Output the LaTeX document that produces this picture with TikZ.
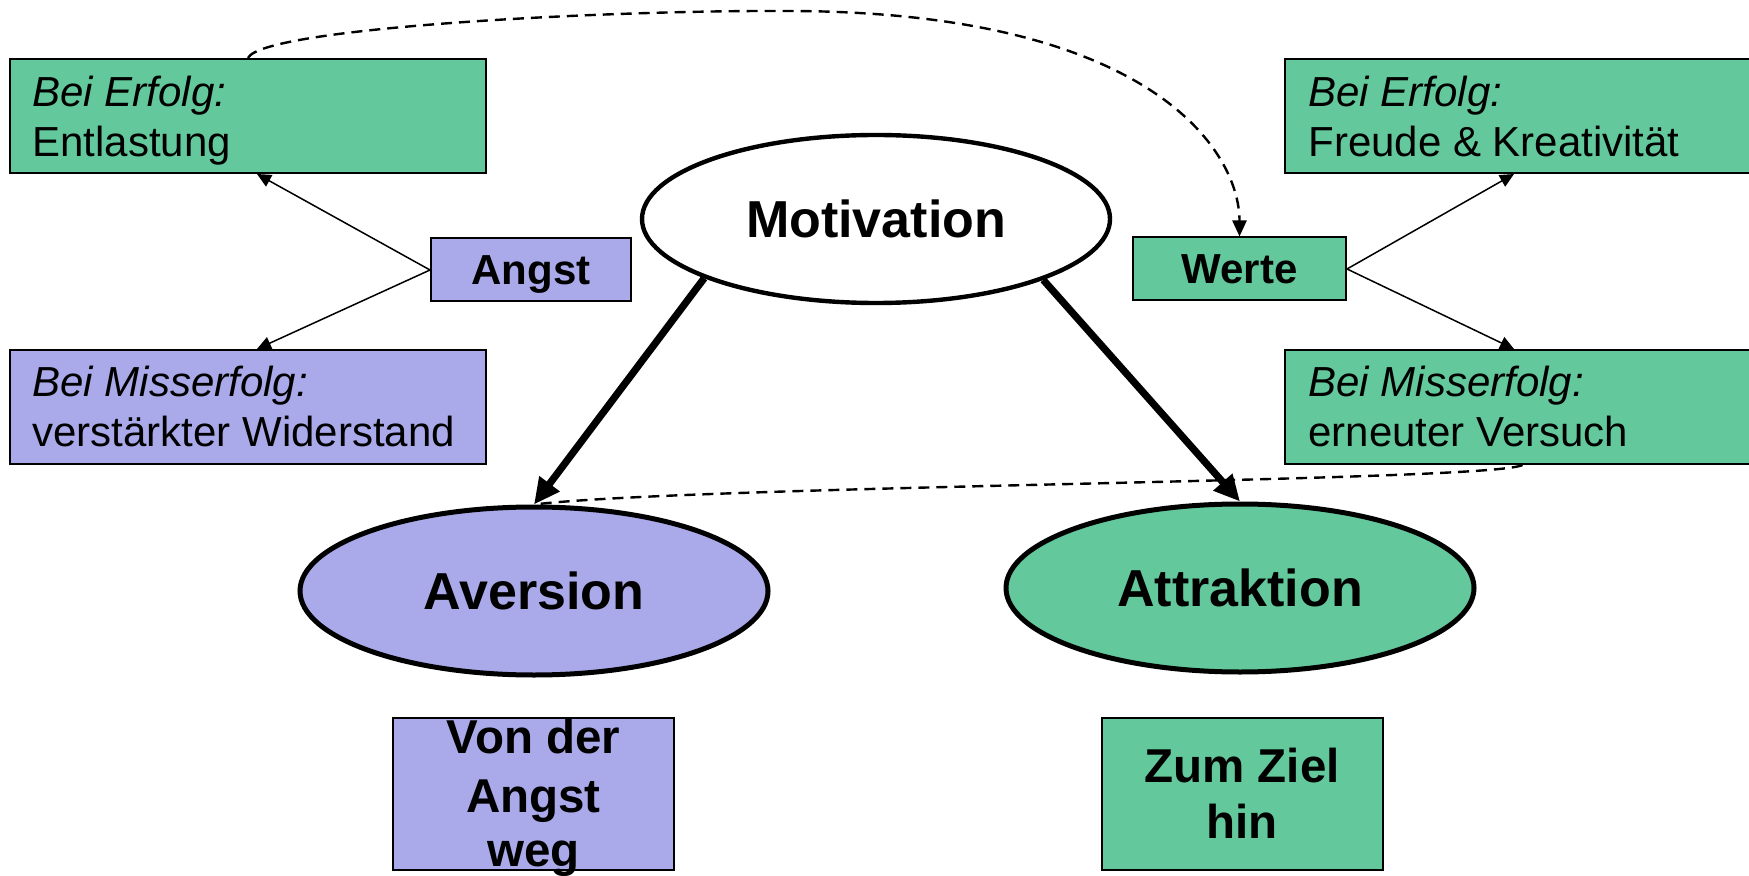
\documentclass[tikz,border=0pt]{standalone}
\usepackage{fontspec}
\setmainfont{Liberation Sans}
\usetikzlibrary{arrows.meta,shapes.geometric}
\definecolor{grn}{HTML}{63C99C}
\definecolor{prp}{HTML}{AAAAEA}
\begin{document}
\begin{tikzpicture}[x=0.5pt,y=-0.5pt,
  boxshape/.style={draw=black,line width=1pt,rectangle,inner sep=0pt},
  bigbox/.style={boxshape,minimum width=238pt,minimum height=57pt},
  smallbox/.style={boxshape,minimum height=31.5pt,text depth=0pt,font=\bfseries\fontsize{21}{25}\selectfont},
  lowbox/.style={boxshape,minimum width=140.5pt,minimum height=76pt},
  oval/.style={draw=black,ellipse,inner sep=0pt,minimum width=234pt,minimum height=84pt,font=\bfseries\fontsize{26}{30}\selectfont},
  boxtext/.style={anchor=base west,inner sep=0pt,font=\fontsize{21}{25}\selectfont},
  lowtext/.style={anchor=base,inner sep=0pt,font=\bfseries\fontsize{23.75}{28}\selectfont},
  thinarrow/.style={line width=0.75pt,-{Triangle[length=7pt,width=6.5pt]}},
  thickarrow/.style={line width=3.6pt,-{Triangle[length=13pt,width=12pt]}},
  dashline/.style={line width=1.2pt,dash pattern=on 5.5pt off 3.5pt}
]
\useasboundingbox (0,0) rectangle (1749,876);

% boxes
\node[bigbox,fill=grn] (tl) at (248,116) {};
\node[bigbox,fill=prp] (bl) at (248,407) {};
\node[bigbox,fill=grn,minimum width=237.5pt] (tr) at (1522.5,116) {};
\node[bigbox,fill=grn,minimum width=237.5pt] (br) at (1522.5,407) {};
\node[smallbox,fill=prp,minimum width=100pt] (angst) at (531,270) {Angst};
\node[smallbox,fill=grn,minimum width=106.5pt] (werte) at (1239.5,269) {Werte};
\node[lowbox,fill=prp] (von) at (533.5,794) {};
\node[lowbox,fill=grn] (zum) at (1242,794) {};

% box texts
\node[boxtext] (tl1) at (32,107) {\itshape Bei Erfolg:};
\node[boxtext] (tl2) at (32,157) {Entlastung};
\node[boxtext] (bl1) at (32,397) {\itshape Bei Misserfolg:};
\node[boxtext] (bl2) at (32,447) {verstärkter Widerstand};
\node[boxtext] (tr1) at (1308,107) {\itshape Bei Erfolg:};
\node[boxtext] (tr2) at (1308,157) {Freude \& Kreativität};
\node[boxtext] (br1) at (1308,397) {\itshape Bei Misserfolg:};
\node[boxtext] (br2) at (1308,447) {erneuter Versuch};
\node[lowtext] (von1) at (533.5,753) {Von der};
\node[lowtext] (von2) at (533.5,812) {Angst};
\node[lowtext] (von3) at (533.5,866) {weg};
\node[lowtext] (zum1) at (1242,782) {Zum Ziel};
\node[lowtext] (zum2) at (1242,838) {hin};

% ellipses
\node[oval,line width=2.2pt,fill=white] (mot) at (876,219) {Motivation};
\node[oval,line width=2.5pt,fill=prp] (av) at (534,591) {Aversion};
\node[oval,line width=2.5pt,fill=grn] (at) at (1240,588) {Attraktion};

% dashed connectors
\draw[dashline,-{Triangle[length=8pt,width=7pt]}] (tl.north) .. controls (262,28) and (600,10) .. (790,11)
  .. controls (1150,12) and (1239.5,150) .. (werte.north);
\draw[dashline] (br.south) .. controls (1490,482) and (700,485) .. (av.north);

% thin arrows
\draw[thinarrow] (angst.west) -- ([xshift=4.5pt]tl.south);
\draw[thinarrow] (angst.west) -- ([xshift=4.5pt]bl.north);
\draw[thinarrow] (werte.east) -- ([xshift=-4.25pt]tr.south);
\draw[thinarrow] (werte.east) -- ([xshift=-4.25pt]br.north);

% thick arrows
\draw[thickarrow] (mot.199) -- (av.north);
\draw[thickarrow] (mot.340.1) -- (at.north);
\end{tikzpicture}
\end{document}
